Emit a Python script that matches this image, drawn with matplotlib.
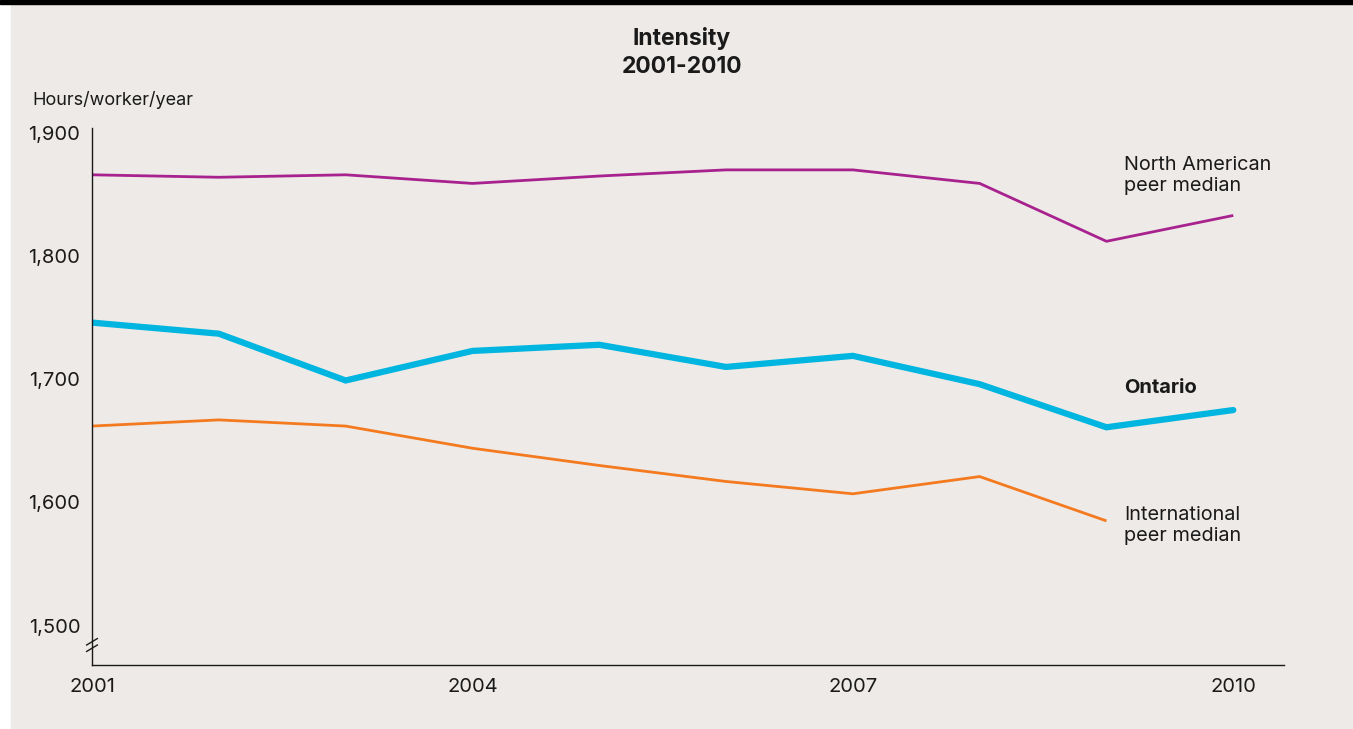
import matplotlib
matplotlib.use('Agg')
import matplotlib.pyplot as plt
from matplotlib.patches import Rectangle

# ── data: hours worked per worker per year ───────────────────
years         = [2001, 2002, 2003, 2004, 2005, 2006, 2007, 2008, 2009, 2010]
north_america = [1866, 1864, 1866, 1859, 1865, 1870, 1870, 1859, 1812, 1833]
ontario       = [1746, 1737, 1699, 1723, 1728, 1710, 1719, 1696, 1661, 1675]
international = [1662, 1667, 1662, 1644, 1630, 1617, 1607, 1621, 1585]
x_ticks       = [2001, 2004, 2007, 2010]
y_ticks       = [1500, 1600, 1700, 1800, 1900]

# ── theme ────────────────────────────────────────────────────
BG     = '#edeae7'
INK    = '#1a1a1a'
PURPLE = '#a8228f'
CYAN   = '#00b5e0'
ORANGE = '#f47a20'

plt.rcParams['font.family'] = ['Inter', 'DejaVu Sans']

W, H = 1353, 729
fig = plt.figure(figsize=(W / 100, H / 100), dpi=100, facecolor='white')

# panel background + black rule along the top
fig.patches.append(Rectangle((11 / W, 1 / H), 1 - 11 / W, 1 - 5 / H,
                             transform=fig.transFigure, color=BG, zorder=-2))
fig.patches.append(Rectangle((0, 1 - 4 / H), 1, 4 / H,
                             transform=fig.transFigure, color='black', zorder=-1))

ax = fig.add_axes([92 / W, 1 - 665 / H, (1284 - 92) / W, (665 - 128) / H])
ax.set_facecolor('none')

ax.plot(years, north_america, color=PURPLE, lw=2, solid_capstyle='butt')
ax.plot(years, ontario, color=CYAN, lw=4.5, solid_capstyle='round',
        solid_joinstyle='miter')
ax.plot(years[:len(international)], international, color=ORANGE, lw=2,
        solid_capstyle='butt')

ax.set_xlim(2001, 2010.40)
ax.set_ylim(1468, 1904)

ax.set_xticks(x_ticks)
ax.set_xticklabels([str(y) for y in x_ticks])
ax.set_yticks(y_ticks)
ax.set_yticklabels([f'{v:,}' for v in y_ticks])
ax.tick_params(length=0, labelsize=14.5, colors=INK)
ax.tick_params(axis='y', pad=8.5)
ax.tick_params(axis='x', pad=9)

for side in ('top', 'right'):
    ax.spines[side].set_visible(False)
for side in ('left', 'bottom'):
    ax.spines[side].set_color(INK)
    ax.spines[side].set_linewidth(1)

# axis break marks near the foot of the y axis
yb = 1 - (645 - 128) / (665 - 128)
for dy in (-0.006, 0.006):
    ax.plot([-0.0045, 0.0045], [yb + dy - 0.006, yb + dy + 0.006],
            transform=ax.transAxes, color=INK, lw=1, clip_on=False)

# series labels on the right
fig.text(1124 / W, 1 - 156 / H, 'North American\npeer median', fontsize=14.3,
         color=INK, va='top', ha='left', linespacing=1.2)
fig.text(1124 / W, 1 - 388 / H, 'Ontario', fontsize=14.5, fontweight='bold',
         color=INK, va='center', ha='left')
fig.text(1124 / W, 1 - 506 / H, 'International\npeer median', fontsize=14.3,
         color=INK, va='top', ha='left', linespacing=1.2)

# titles
fig.text(682 / W, 1 - 27 / H, 'Intensity\n2001-2010', fontsize=16.5,
         fontweight='bold', color=INK, ha='center', va='top', linespacing=1.35)
fig.text(32 / W, 1 - 100 / H, 'Hours/worker/year', fontsize=13,
         color=INK, ha='left', va='center')

fig.savefig('out.png', dpi=100, facecolor='white')
